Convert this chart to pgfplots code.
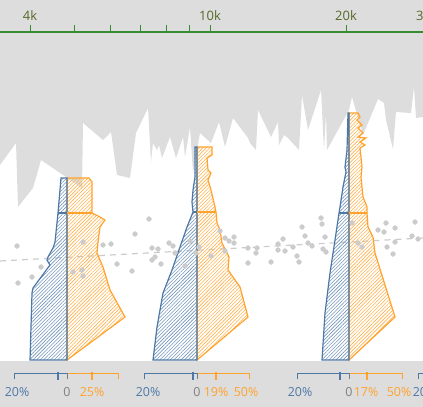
\documentclass[border=0pt]{standalone}
\usepackage{fontspec}
\setmainfont{Open Sans}
\usepackage{pgfplots}
\pgfplotsset{compat=1.18}
\usetikzlibrary{patterns.meta}
\definecolor{bgrey}{RGB}{221,221,221}
\definecolor{pblue}{RGB}{78,121,167}
\definecolor{porange}{RGB}{255,163,45}
\definecolor{dotgrey}{RGB}{204,204,204}
\definecolor{axgreen}{RGB}{52,140,52}
\definecolor{labgreen}{RGB}{85,105,40}
\definecolor{zgrey}{RGB}{128,128,128}
\pgfplotstableread{
x y
17 246
18 283
32 277
41 267
83 242
82 270
73 272
83 276
103 245
111 244
117 264
132 271
135 234
149 219
152 248
158 249
155 257
152 260
161 264
169 243
173 246
175 253
185 266
190 241
199 247
196 253
211 256
220 231
225 238
229 241
234 237
234 243
225 251
248 263
248 248
257 248
256 253
271 262
278 244
283 239
278 250
285 251
293 247
297 256
299 262
302 227
305 236
308 243
312 246
321 218
322 224
325 237
323 249
326 252
352 223
358 243
362 247
378 230
384 232
386 223
395 228
387 247
395 242
393 254
412 236
415 222
418 239
}\dots
\begin{document}
\begin{tikzpicture}
\begin{axis}[width=423bp,height=407bp,scale only axis,
  xmin=0,xmax=423,ymin=0,ymax=407,y dir=reverse,
  axis lines=none,clip=false,
  hatchb/.style={draw=pblue,line width=1.2bp,pattern={Lines[angle=45,distance=2.5pt,line width=0.6pt]},pattern color=pblue!80},
  hatcho/.style={draw=porange,line width=1.2bp,pattern={Lines[angle=45,distance=2.5pt,line width=0.6pt]},pattern color=porange!85}]
% grey silhouette from the top
\addplot[fill=bgrey,draw=none] coordinates {(0,0) (0,165) (16,143) (18,207) (33,188) (41,160) (82,188) (83,123) (103,140) (111,132) (117,175) (130,178) (136,133) (148,108) (151,162) (153,143) (157,150) (159,145) (162,158) (170,137) (176,158) (183,137) (185,157) (190,127) (193,173) (200,133) (211,143) (219,122) (225,147) (233,118) (248,138) (250,143) (256,150) (258,110) (271,137) (278,122) (279,145) (284,135) (288,138) (299,150) (302,95) (308,130) (321,90) (324,150) (326,113) (327,150) (349,110) (352,97) (363,135) (378,99) (384,103) (386,120) (393,149) (396,112) (411,113) (414,87) (416,118) (423,117) (423,0)} -- cycle;
% bottom band
\addplot[fill=bgrey,draw=none] coordinates {(0,361) (423,361) (423,407) (0,407)} -- cycle;
% trend line
\addplot[dotgrey,line width=1.2bp,dash pattern=on 6bp off 5bp] coordinates {(0,261) (423,238)};
% scatter
\addplot[color=dotgrey,only marks,mark=*,mark size=2.4pt,mark options={draw=dotgrey,fill=dotgrey}] table[x=x,y=y] {\dots};
% pyramid 1
\addplot[hatcho] coordinates {(67,178) (89,178) (92,182) (92,213) (100,217) (105,220) (100,227) (98,242) (97,253) (103,267) (110,290) (125,317) (67,360)} -- cycle;
\addplot[hatchb] coordinates {(67,178) (61,178) (58,213) (55,242) (53,248) (48,257) (47,260) (50,265) (33,288) (32,293) (30,360) (67,360)} -- cycle;
\addplot[porange,line width=1.2bp] coordinates {(67,213) (92,213)};
\addplot[pblue,line width=1.2bp] coordinates {(58,213) (67,213)};
% pyramid 2
\addplot[hatcho] coordinates {(197,147) (212,147) (212,155) (207,158) (208,170) (211,173) (208,180) (211,190) (215,207) (216,212) (217,223) (220,230) (222,243) (229,257) (228,270) (240,287) (248,317) (197,360)} -- cycle;
\addplot[hatchb] coordinates {(197,147) (195,147) (195,177) (193,190) (192,202) (193,212) (187,227) (180,247) (172,270) (163,293) (157,327) (153,360) (197,360)} -- cycle;
\addplot[porange,line width=1.2bp] coordinates {(197,212) (216,212)};
\addplot[pblue,line width=1.2bp] coordinates {(193,212) (197,212)};
% pyramid 3
\addplot[hatcho] coordinates {(349,113) (358,113) (360,117) (357,120) (362,125) (358,128) (363,133) (358,137) (366,138) (360,142) (365,145) (360,148) (362,167) (361,177) (363,197) (367,207) (367,213) (368,227) (373,237) (375,253) (395,317) (349,360)} -- cycle;
\addplot[hatchb] coordinates {(349,113) (348,113) (347,150) (345,167) (346,172) (343,187) (340,207) (339,213) (335,240) (330,273) (325,313) (322,360) (349,360)} -- cycle;
\addplot[porange,line width=1.2bp] coordinates {(349,213) (367,213)};
\addplot[pblue,line width=1.2bp] coordinates {(339,213) (349,213)};
% bottom scales
\addplot[pblue,line width=1bp] coordinates {(14,379) (14,373) (67,373)};
\addplot[porange,line width=1bp] coordinates {(67,373) (118,373) (118,379)};
\addplot[zgrey!70!pblue,line width=1bp] coordinates {(67,373) (67,379)};
\addplot[pblue,line width=2bp] coordinates {(58,372) (58,380)};
\addplot[porange,line width=2bp] coordinates {(92,372) (92,380)};
\addplot[pblue,line width=1bp] coordinates {(144,379) (144,373) (197,373)};
\addplot[porange,line width=1bp] coordinates {(197,373) (249,373) (249,379)};
\addplot[zgrey!70!pblue,line width=1bp] coordinates {(197,373) (197,379)};
\addplot[pblue,line width=2bp] coordinates {(193,372) (193,380)};
\addplot[porange,line width=2bp] coordinates {(216,372) (216,380)};
\addplot[pblue,line width=1bp] coordinates {(297,379) (297,373) (349,373)};
\addplot[porange,line width=1bp] coordinates {(349,373) (402,373) (402,379)};
\addplot[zgrey!70!pblue,line width=1bp] coordinates {(349,373) (349,379)};
\addplot[pblue,line width=2bp] coordinates {(340,372) (340,380)};
\addplot[porange,line width=2bp] coordinates {(367,372) (367,380)};
\addplot[pblue,line width=1bp] coordinates {(418,379) (418,373) (440,373)};
\tikzset{bl/.style={font=\fontsize{12.5}{14}\selectfont,inner sep=0pt,anchor=base}}
\node[bl,text=pblue] at (axis cs:17,396) {20\%};
\node[bl,text=zgrey] at (axis cs:67,396) {0};
\node[bl,text=porange] at (axis cs:92,396) {25\%};
\node[bl,text=pblue] at (axis cs:148,396) {20\%};
\node[bl,text=zgrey] at (axis cs:197,396) {0};
\node[bl,text=porange] at (axis cs:216,396) {19\%};
\node[bl,text=porange] at (axis cs:246,396) {50\%};
\node[bl,text=pblue] at (axis cs:300,396) {20\%};
\node[bl,text=zgrey] at (axis cs:349,396) {0};
\node[bl,text=porange] at (axis cs:366,396) {17\%};
\node[bl,text=porange] at (axis cs:399,396) {50\%};
\node[bl,text=pblue] at (axis cs:425,396) {20\%};
% top log axis
\addplot[axgreen,line width=1.2bp] coordinates {(0,32) (423,32)};
\addplot[axgreen,line width=1bp] coordinates {(30,25) (30,32)};
\addplot[axgreen,line width=1bp] coordinates {(74,25) (74,32)};
\addplot[axgreen,line width=1bp] coordinates {(110,25) (110,32)};
\addplot[axgreen,line width=1bp] coordinates {(140,25) (140,32)};
\addplot[axgreen,line width=1bp] coordinates {(166,25) (166,32)};
\addplot[axgreen,line width=1bp] coordinates {(189,25) (189,32)};
\addplot[axgreen,line width=1bp] coordinates {(210,25) (210,32)};
\addplot[axgreen,line width=1bp] coordinates {(346,25) (346,32)};
\tikzset{tl/.style={font=\fontsize{13}{15}\selectfont,inner sep=0pt,anchor=base,text=labgreen}}
\node[tl] at (axis cs:30,20.5) {4k};
\node[tl] at (axis cs:210,20.5) {10k};
\node[tl] at (axis cs:346,20.5) {20k};
\node[tl] at (axis cs:427,20.5) {30k};
\end{axis}
\pgfresetboundingbox
\path[use as bounding box] (0,0) rectangle (423bp,407bp);
\end{tikzpicture}
\end{document}
